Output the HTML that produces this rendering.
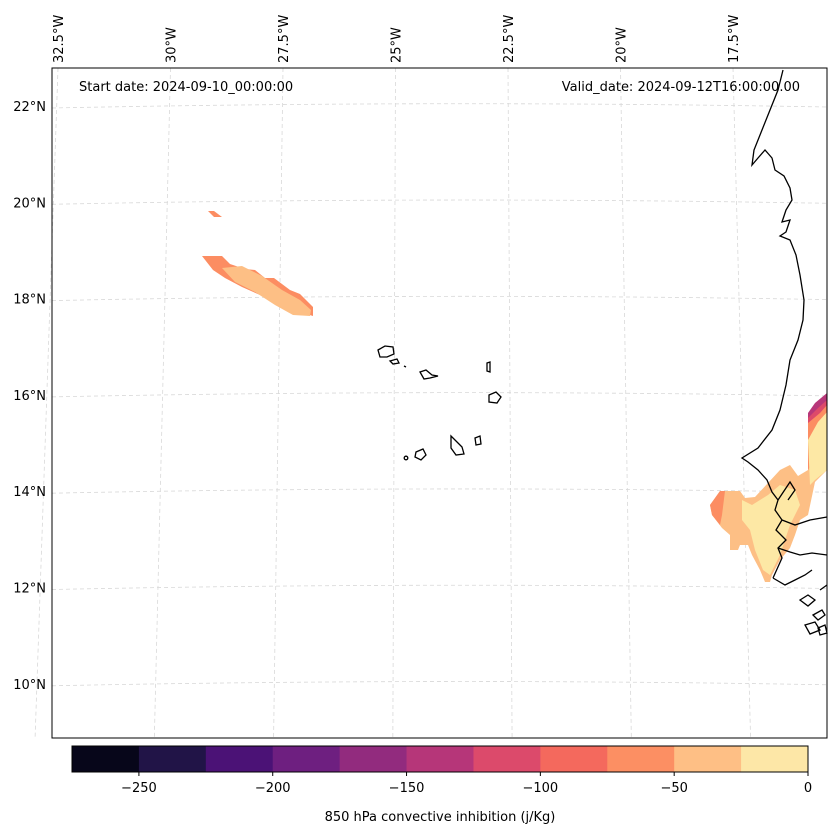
<!DOCTYPE html>
<html><head><meta charset="utf-8"><style>
html,body{margin:0;padding:0;background:#fff}
svg{display:block;font-family:"DejaVu Sans","Liberation Sans",sans-serif}
</style></head><body>
<svg id="fig" width="837" height="836" viewBox="0 0 837 836">
<g>
  <rect x="52" y="68" width="775" height="670" fill="#fff"/>
  <g id="grid" stroke="#d8d8d8" stroke-width="0.8" stroke-dasharray="4,3" fill="none"></g>
  <g>
    <polygon points="208,211 214,211 222,217 214,217" fill="#fc8d62"/>
    <polygon points="202,256 222,256 230,264 245,269 255,270 265,278 274,278 290,290 300,294 313,307 313,316 290,309 275,302 260,295 242,287 225,278 213,270" fill="#fc8d62"/>
    <polygon points="222,268 242,266 262,276 282,290 300,300 311,310 310,316 293,315 275,305 255,292 235,282" fill="#fdbf85"/>
  </g>
  <g>
    <polygon points="808,413 815,403 827,393 827,470 808,470" fill="#b73779"/>
    <polygon points="808,418 818,408 827,400 827,470 808,470" fill="#dd4a6a"/>
    <polygon points="808,423 820,413 827,405 827,470 808,470" fill="#fc8d62"/>
    <polygon points="710,505 720,491 740,491 745,498 755,497 768,483 780,470 790,465 798,476 808,470 827,440 827,470 815,482 808,515 800,520 795,535 790,548 780,560 772,575 770,582 765,582 760,570 752,555 748,545 740,545 738,550 730,550 730,535 722,528 712,515" fill="#fdbf85"/>
    <polygon points="808,440 818,422 827,412 827,470 815,480 810,485" fill="#fde8a5"/>
    <polygon points="742,500 752,505 768,495 780,485 795,490 800,505 790,525 785,540 780,555 770,575 763,570 755,550 750,530 742,520" fill="#fde8a5"/>
    <polygon points="710,505 720,491 725,491 722,515 720,525 712,515" fill="#fc8d62"/>
  </g>
  <g fill="none" stroke="#000" stroke-width="1.3">
    <path d="M783,70 L778,90 L770,110 L762,130 L754,150 L752,165 L758,158 L765,150 L772,158 L775,170 L784,176 L790,188 L792,200 L786,210 L782,222 L790,220 L786,232 L780,236 L790,240 L796,255 L800,275 L804,300 L803,320 L798,340 L790,360 L786,385 L780,410 L772,430 L758,448 L742,458 L748,462 L758,470 L767,480 L772,492 L778,500 L775,510 L782,520 L776,530 L786,540 L778,548 L782,558 L773,578"/>
    <path d="M778,500 L790,482 L795,490 L788,500"/>
    <path d="M782,520 L795,525 L810,520 L827,517"/>
    <path d="M778,548 L790,552 L800,555 L812,553 L827,555"/>
    <path d="M773,578 L785,585 L795,580 L805,575 L812,570"/>
    <path d="M800,600 L808,595 L815,600 L808,606 Z M813,615 L822,610 L825,615 L818,620 Z M805,625 L815,622 L820,630 L810,634 Z M818,628 L825,625 L827,633 L820,635 Z M820,590 L827,585"/>
    <path d="M378,350 L385,346 L393,347 L394,354 L387,357 L380,357 Z"/>
    <path d="M390,361 L397,359 L399,363 L393,364 Z"/>
    <path d="M404,366 L406,367"/>
    <path d="M420,372 L426,370 L432,375 L438,376 L430,378 L424,379 Z"/>
    <path d="M487,363 L490,362 L490,372 L487,371 Z"/>
    <path d="M489,395 L496,392 L501,397 L497,403 L489,402 Z"/>
    <path d="M451,436 L456,441 L462,447 L464,454 L456,455 L451,448 Z"/>
    <path d="M475,438 L480,436 L481,444 L476,445 Z"/>
    <path d="M416,452 L423,449 L426,455 L421,460 L415,457 Z"/>
    <circle cx="406" cy="458" r="1.8"/>
  </g>
  <rect x="52" y="68" width="775" height="670" fill="none" stroke="#000" stroke-width="1"/>
  <text x="79" y="91" font-size="13">Start date: 2024-09-10_00:00:00</text>
  <text x="800" y="91" font-size="13" text-anchor="end">Valid_date: 2024-09-12T16:00:00.00</text>
  <g id="latlabels" font-size="13" text-anchor="end"></g>
  <g id="lonlabels" font-size="13"></g>
</g>
<g id="cbar"></g>
<text x="440" y="821" font-size="13" text-anchor="middle">850 hPa convective inhibition (j/Kg)</text>
</svg>
<script>
const cbLevels = [-275,-250,-225,-200,-175,-150,-125,-100,-75,-50,-25,0];
const cbColors = ["#07061a","#211447","#4b1276","#6e1f80","#922b7e","#b63679","#dc4a6b","#f4695d","#fc8f63","#febf85","#fde7a7"];
const cbTicks = [-250,-200,-150,-100,-50,0];
const latTicks = [22,20,18,16,14,12,10];
const lonTicks = [32.5,30,27.5,25,22.5,20,17.5];
const NS="http://www.w3.org/2000/svg";
function mk(t,a,p){const e=document.createElementNS(NS,t);for(const k in a)e.setAttribute(k,a[k]);p.appendChild(e);return e;}
const cx0=72,cx1=808,cy=746,ch=26;
const cxs=v=>cx0+(v-cbLevels[0])/(cbLevels[cbLevels.length-1]-cbLevels[0])*(cx1-cx0);
const cb=document.getElementById('cbar');
for(let i=0;i<cbColors.length;i++){
  const r=mk('rect',{x:cxs(cbLevels[i]),y:cy,width:cxs(cbLevels[i+1])-cxs(cbLevels[i])+0.5,height:ch,fill:cbColors[i]},cb);
  
  
}
mk('rect',{x:cx0,y:cy,width:cx1-cx0,height:ch,fill:'none',stroke:'#000','stroke-width':1},cb);
cbTicks.forEach(v=>{
  const x=cxs(v);
  mk('line',{x1:x,x2:x,y1:cy+ch,y2:cy+ch+4,stroke:'#000'},cb);
  const t=mk('text',{x:x,y:cy+ch+20,'font-size':13,'text-anchor':'middle'},cb);
  t.textContent=(v<0?'\u2212'+(-v):v);
  
  
});
const latY=lat=>106+(22-lat)*48.15;
const lonXTop=lon=>58+(32.5-lon)*45;
const grid=document.getElementById('grid');
latTicks.forEach(l=>{
  const y=latY(l);
  const p=mk('path',{d:`M52,${y+2} Q440,${y-6} 827,${y+1}`},grid);
  
  
  const t=mk('text',{x:46,y:y+5},document.getElementById('latlabels'));
  t.textContent=l+'\u00b0N';
  
  
});
lonTicks.forEach(l=>{
  const xt=lonXTop(l);
  const xb=xt+(xt-440)*0.06;
  const p=mk('line',{x1:xt,y1:68,x2:xb,y2:738},grid);
  
  
  const t=mk('text',{x:0,y:0,transform:`translate(${xt+5},63) rotate(-90)`},document.getElementById('lonlabels'));
  t.textContent=l+'\u00b0W';
  
  
});
</script>
</body></html>
